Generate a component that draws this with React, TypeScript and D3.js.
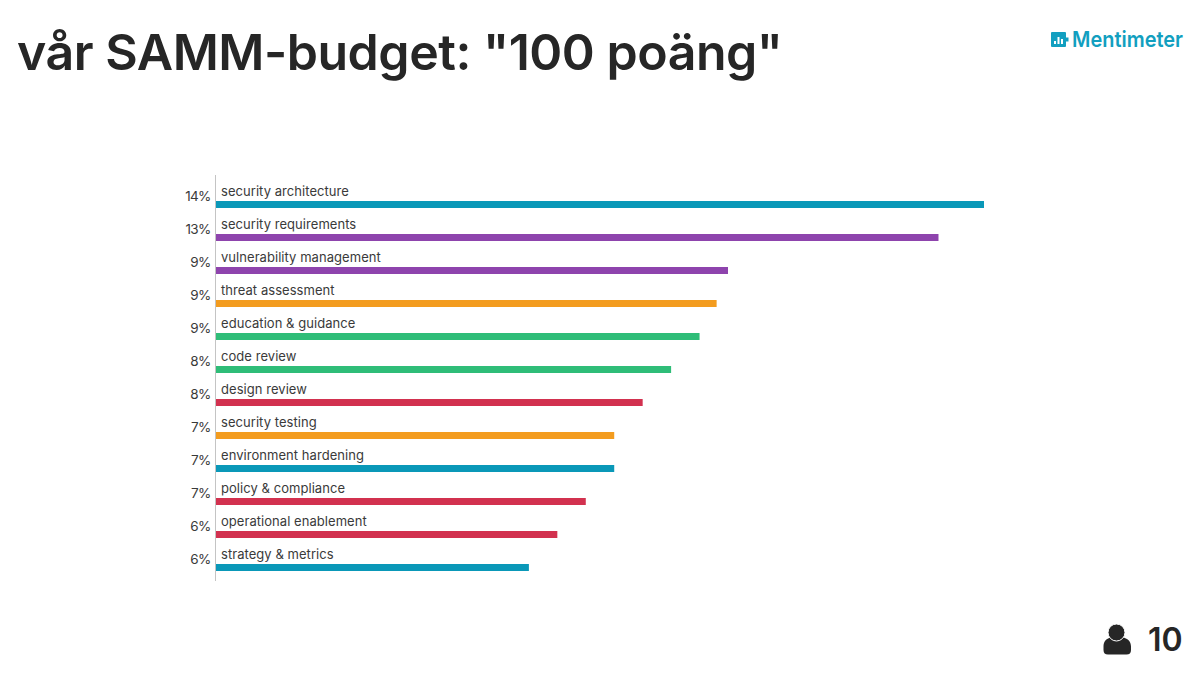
import * as d3 from 'd3';

const categories = [
  'security architecture',
  'security requirements',
  'vulnerability management',
  'threat assessment',
  'education & guidance',
  'code review',
  'design review',
  'security testing',
  'environment hardening',
  'policy & compliance',
  'operational enablement',
  'strategy & metrics',
];
const shares = [13.5, 12.7, 9, 8.8, 8.5, 8, 7.5, 7, 7, 6.5, 6, 5.5];
const percentLabels = ['14%', '13%', '9%', '9%', '9%', '8%', '8%', '7%', '7%', '7%', '6%', '6%'];
const groups = ['a', 'b', 'b', 'c', 'd', 'd', 'e', 'c', 'a', 'e', 'e', 'a'];

const title = 'vår SAMM-budget: "100 poäng"';
const voterCount = '10';

const FONT = 'Inter, "Noto Sans", sans-serif';
const INK = '#262626';
const LOGO = '#129fc0';

const color = d3.scaleOrdinal<string, string>()
  .domain(['a', 'b', 'c', 'd', 'e'])
  .range(['#0a98b8', '#8e44ad', '#f39c1f', '#2fbd78', '#d2314f']);

export default function App() {
  const x = d3.scaleLinear().domain([0, 13.5]).range([216, 984]);
  const y = d3.scaleBand<string>().domain(categories).range([176, 572]).padding(0);
  const barHeight = 7;

  return (
    <svg
      width={1200}
      height={675}
      viewBox="0 0 1200 675"
      style={{ position: 'absolute', left: 0, top: 0, background: '#fff' }}
      fontFamily={FONT}
    >
      <text x={17} y={70} fontSize={50} fontWeight={600} fill={INK} textLength={766} lengthAdjust="spacing">
        {title}
      </text>

      {/* Logo */}
      <g>
        <rect x={1051} y={32} width={15} height={15} fill={LOGO} rx={1} />
        <rect x={1066} y={37.5} width={2.5} height={4} fill={LOGO} />
        <rect x={1054} y={41} width={2} height={3} fill="#fff" />
        <rect x={1057.5} y={37} width={2} height={7} fill="#fff" />
        <rect x={1061} y={39} width={2} height={5} fill="#fff" />
        <text x={1072} y={47} fontSize={22} fontWeight={600} fill={LOGO} textLength={111} lengthAdjust="spacingAndGlyphs">
          Mentimeter
        </text>
      </g>

      {/* Axis line */}
      <line x1={215.5} x2={215.5} y1={175} y2={581} stroke="#c4c4c4" strokeWidth={1} />

      {categories.map((c, i) => {
        const top = y(c)!;
        const barY = top + y.bandwidth() - barHeight - 1;
        return (
          <g key={c}>
            <text x={210.5} y={barY - 0.5} textAnchor="end" fontSize={13.5} letterSpacing={-0.7} fill="#3a3a3a">
              {percentLabels[i]}
            </text>
            <text x={221} y={barY - 5} fontSize={13} fill="#3a3a3a" letterSpacing={0.05}>
              {c}
            </text>
            <rect x={x(0)} y={barY} width={x(shares[i]) - x(0)} height={barHeight} fill={color(groups[i])} />
          </g>
        );
      })}

      {/* Voter count */}
      <g fill={INK}>
        <path d="M1103.5 650 v-3.5 c0 -5 3 -8.5 8 -9 q5.5 3 11 0 c5 .5 8.5 4 8.5 9 v3.5 q0 4.5 -4.5 4.5 h-18.5 q-4.5 0 -4.5 -4.5 z" />
        <circle cx={1116.5} cy={632.5} r={8.5} stroke="#fff" strokeWidth={1} />
        <text x={1148} y={651} fontSize={32} fontWeight={600}>
          {voterCount}
        </text>
      </g>
    </svg>
  );
}
